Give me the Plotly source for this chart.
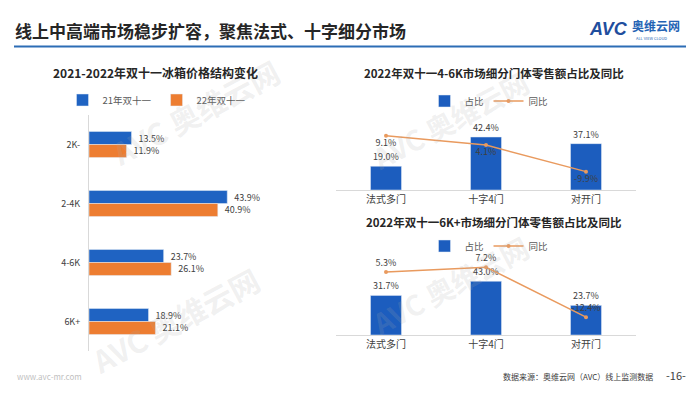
import plotly.graph_objects as go

# ---------------- data ----------------
price_cats = ["2K-", "2-4K", "4-6K", "6K+"]
share_21 = [13.5, 43.9, 23.7, 18.9]
share_22 = [11.9, 40.9, 26.1, 21.1]

door_cats = ["法式多门", "十字4门", "对开门"]
k46_share = [19.0, 42.4, 37.1]
k46_yoy = [9.1, 4.1, -9.9]
k6_share = [31.7, 43.0, 23.7]
k6_yoy = [5.3, 7.2, -12.4]

BLUE_L = "#1F63C2"
ORANGE = "#ED7D31"
BLUE_R = "#1C5DBE"
LINE_C = "#E99A5E"
TXT = "#404040"
FONT = "Noto Sans CJK SC"

W, H = 700, 394
def px(x): return x / W
def py(y): return 1 - y / H

fig = go.Figure()

# ---------------- left chart ----------------
fig.add_trace(go.Bar(
    y=price_cats, x=share_21, orientation="h", name="21年双十一",
    marker_color=BLUE_L, offset=-0.22, width=0.22,
    text=["  %.1f%%" % v for v in share_21], textposition="outside",
    textfont=dict(size=9, color=TXT), cliponaxis=False,
    xaxis="x", yaxis="y", legend="legend"))
fig.add_trace(go.Bar(
    y=price_cats, x=share_22, orientation="h", name="22年双十一",
    marker_color=ORANGE, offset=0.0, width=0.22,
    text=["  %.1f%%" % v for v in share_22], textposition="outside",
    textfont=dict(size=9, color=TXT), cliponaxis=False,
    xaxis="x", yaxis="y", legend="legend"))

# ---------------- right top chart ----------------
fig.add_trace(go.Bar(
    x=door_cats, y=k46_share, name="占比", marker_color=BLUE_R, width=0.31,
    text=["%.1f%%" % v for v in k46_share], textposition="outside",
    textfont=dict(size=9, color=TXT), cliponaxis=False,
    xaxis="x2", yaxis="y2", legend="legend2"))
fig.add_trace(go.Scatter(
    x=door_cats, y=k46_yoy, name="同比", mode="lines+markers+text",
    line=dict(color=LINE_C, width=1.5), marker=dict(size=4, color=LINE_C),
    text=["%.1f%%" % v for v in k46_yoy], textposition="bottom center",
    textfont=dict(size=9, color=TXT), cliponaxis=False,
    xaxis="x2", yaxis="y3", legend="legend2"))

# ---------------- right bottom chart ----------------
fig.add_trace(go.Bar(
    x=door_cats, y=k6_share, name="占比", marker_color=BLUE_R, width=0.31,
    text=["%.1f%%" % v for v in k6_share], textposition="outside",
    textfont=dict(size=9, color=TXT), cliponaxis=False,
    xaxis="x3", yaxis="y4", legend="legend3"))
fig.add_trace(go.Scatter(
    x=door_cats, y=k6_yoy, name="同比", mode="lines+markers+text",
    line=dict(color=LINE_C, width=1.5), marker=dict(size=4, color=LINE_C),
    text=["%.1f%%" % v for v in k6_yoy], textposition="top center",
    textfont=dict(size=9, color=TXT), cliponaxis=False,
    xaxis="x3", yaxis="y5", legend="legend3"))

hidden = dict(showgrid=False, zeroline=False, showticklabels=False, showline=False, ticks="")
legend_common = dict(orientation="h", bgcolor="rgba(0,0,0,0)",
                     font=dict(size=9.5, color="#595959", family=FONT),
                     itemwidth=30, xanchor="center", yanchor="middle",
                     itemclick=False, tracegroupgap=0)

fig.update_layout(
    width=W, height=H, margin=dict(l=0, r=0, t=0, b=0),
    paper_bgcolor="white", plot_bgcolor="rgba(0,0,0,0)",
    font=dict(family=FONT, color=TXT),
    barmode="overlay",
    xaxis=dict(domain=[px(89), px(300)], range=[0, 67], anchor="y", **hidden),
    yaxis=dict(domain=[py(351), py(115)], anchor="x", autorange="reversed",
               showgrid=False, zeroline=False, showline=True, linecolor="#D9D9D9",
               linewidth=1, ticks="", tickfont=dict(size=9, color=TXT), ticklabelstandoff=6),
    xaxis2=dict(domain=[px(336), px(636)], anchor="y2", showgrid=False, zeroline=False,
                showline=True, linecolor="#D9D9D9", linewidth=1, ticks="",
                tickfont=dict(size=10, color=TXT)),
    yaxis2=dict(domain=[py(190), py(115)], range=[0, 60], anchor="x2", **hidden),
    yaxis3=dict(overlaying="y2", range=[-19.6, 20], anchor="x2", **hidden),
    xaxis3=dict(domain=[px(336), px(636)], anchor="y4", showgrid=False, zeroline=False,
                showline=True, linecolor="#D9D9D9", linewidth=1, ticks="",
                tickfont=dict(size=10, color=TXT)),
    yaxis4=dict(domain=[py(335), py(260)], range=[0, 60], anchor="x3", **hidden),
    yaxis5=dict(overlaying="y4", range=[-19.4, 10], anchor="x3", **hidden),
    legend=dict(x=px(157), y=py(100), **legend_common),
    legend2=dict(x=px(489), y=py(101), **legend_common),
    legend3=dict(x=px(489), y=py(246), **legend_common),
    showlegend=True,
)

# title bar line
fig.add_shape(type="line", xref="paper", yref="paper",
              x0=px(14), x1=px(686), y0=py(46.5), y1=py(46.5),
              line=dict(color="#2C6DB5", width=2))

ann = []
def A(text, x, y, size, color=TXT, xanchor="center", bold=False, angle=0, family=FONT):
    ann.append(dict(text=("<b>%s</b>" % text) if bold else text, x=px(x), y=py(y),
                    xref="paper", yref="paper", showarrow=False, xanchor=xanchor,
                    yanchor="middle", textangle=angle,
                    font=dict(size=size, color=color, family=family)))

# watermarks
WM = "rgba(170,170,170,0.18)"
A("AVC 奥维云网", 195, 112, 30, WM, bold=True, angle=-28)
A("AVC 奥维云网", 175, 320, 30, WM, bold=True, angle=-28)
A("AVC 奥维云网", 450, 120, 28, WM, bold=True, angle=-28)
A("AVC 奥维云网", 450, 285, 28, WM, bold=True, angle=-28)

A("线上中高端市场稳步扩容，聚焦法式、十字细分市场", 13, 30, 17, "#262626", xanchor="left", bold=True)
A("<i>AVC</i>", 587, 29, 18, "#1F4E9E", xanchor="left", bold=True, family="Liberation Sans")
A("奥维云网", 630, 26, 12, "#2463B4", xanchor="left", bold=True)
A("ALL VIEW CLOUD", 634, 37.5, 4, "#2463B4", xanchor="left")

A("2021-2022年双十一冰箱价格结构变化", 155, 72, 12, "#262626", bold=True)
A("2022年双十一4-6K市场细分门体零售额占比及同比", 494, 73, 11.5, "#262626", bold=True)
A("2022年双十一6K+市场细分门体零售额占比及同比", 494, 222, 11.5, "#262626", bold=True)

A("www.avc-mr.com", 15, 376, 8, "#BFBFBF", xanchor="left")
A("数据来源：奥维云网（AVC）线上监测数据", 655, 376, 8, TXT, xanchor="right")
A("-16-", 664, 375, 11, TXT, xanchor="left")

fig.update_layout(annotations=ann)
fig.write_html("out.html", config={"displayModeBar": False},
               post_script="document.body.style.margin='0';document.body.style.padding='0';")
